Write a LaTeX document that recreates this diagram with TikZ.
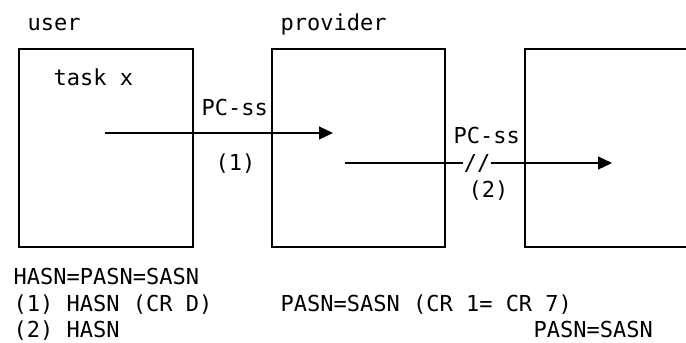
\documentclass[tikz,border=0pt]{standalone}
\usepackage{fontspec}
\setmonofont{DejaVu Sans Mono}
\usetikzlibrary{arrows.meta,positioning,calc}

\begin{document}
\begin{tikzpicture}[x=0.5pt, y=-0.5pt, line width=0.6pt,
  txt/.style={anchor=base west, inner sep=0pt, font=\ttfamily\fontsize{11}{13}\selectfont},
  lanebox/.style={draw, minimum height=99pt, inner sep=0pt},
  flow/.style={-{Triangle[length=7pt,width=6.5pt]}}]
\useasboundingbox (0,0) rectangle (686,343);
% the three lanes
\node[lanebox, minimum width=87pt] (userbox) at (106,148) {};
\node[lanebox, minimum width=86.5pt] (provbox) at (358.5,148) {};
\node[lanebox, minimum width=140pt] (farbox) at (665,148) {};
\node[txt] (user) at (27,30) {user};
\node[txt] (provider) at (280,30) {provider};
\node[txt] (task) at (53,85) {task x};
% first hop
\coordinate (s1) at (105,133);
\coordinate (e1) at (333,133);
\draw[flow] (s1) -- (e1);
\node[txt] (pc1) at (201,115) {PC-ss};
\node[txt] (n1) at (215,170) {(1)};
% second hop, broken
\coordinate (s2) at (345,163);
\coordinate (e2) at (612,163);
\node[txt, anchor=center] (brk) at (477,163) {//};
\draw (s2) -- (brk.west);
\draw[flow] (brk.east) -- (e2);
\node[txt] (pc2) at (453,143) {PC-ss};
\node[txt] (n2) at (468,197) {(2)};
% notes
\node[txt] (r1) at (13,284) {HASN=PASN=SASN};
\node[txt] (r2) at (13,311) {(1) HASN (CR D)};
\node[txt] (r2b) at (280,311) {PASN=SASN (CR 1= CR 7)};
\node[txt] (r3) at (13,337) {(2) HASN};
\node[txt] (r3b) at (533,337) {PASN=SASN};
\end{tikzpicture}
\end{document}
